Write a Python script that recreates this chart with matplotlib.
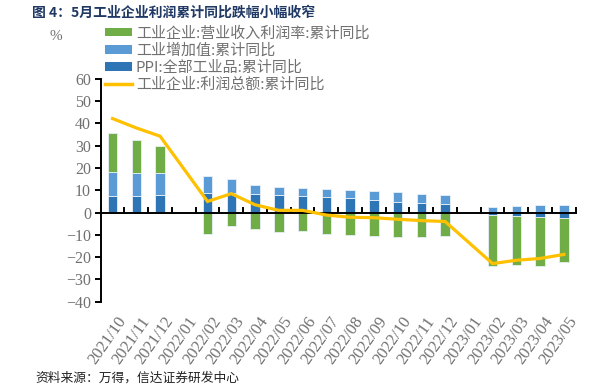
import numpy as np
import matplotlib
matplotlib.use("Agg")
import matplotlib.pyplot as plt
import matplotlib.transforms as mtransforms
from matplotlib.patches import Patch
from matplotlib.lines import Line2D

# =========================
# DATA
# =========================

months = ["2021/10", "2021/11", "2021/12", "2022/01", "2022/02", "2022/03",
          "2022/04", "2022/05", "2022/06", "2022/07", "2022/08", "2022/09",
          "2022/10", "2022/11", "2022/12", "2023/01", "2023/02", "2023/03",
          "2023/04", "2023/05"]

nan = np.nan
# PPI: all industrial products, cumulative yoy
ppi = [7.3, 7.6, 8.1, nan, 8.8, 8.7, 8.5, 8.1, 7.6, 7.0, 6.5, 5.8,
       4.9, 4.5, 4.0, nan, -1.0, -1.6, -2.1, -2.6]
# industrial value added, cumulative yoy
value_added = [10.9, 10.3, 9.6, nan, 7.5, 6.5, 3.9, 3.3, 3.5, 3.6, 3.7, 3.9,
               4.2, 3.9, 3.8, nan, 2.4, 3.0, 3.6, 3.6]
# revenue profit margin, cumulative yoy
margin = [17.4, 14.6, 12.2, nan, -9.6, -5.8, -7.5, -8.8, -8.1, -9.7, -10.1, -10.4,
          -10.9, -10.8, -10.6, nan, -22.9, -22.0, -21.9, -19.5]
# total profit, cumulative yoy
profit = [42.2, 38.0, 34.3, nan, 5.0, 8.5, 3.5, 1.0, 1.0, -1.1, -2.1, -2.3,
          -3.0, -3.6, -4.0, nan, -22.9, -21.4, -20.6, -18.8]

labels = ["工业企业:营业收入利润率:累计同比", "工业增加值:累计同比",
          "PPI:全部工业品:累计同比", "工业企业:利润总额:累计同比"]

title = "图 4：5月工业企业利润累计同比跌幅小幅收窄"
source = "资料来源：万得，信达证券研发中心"

c_green = "#70AD47"
c_light = "#5B9BD5"
c_dark = "#2E75B6"
c_line = "#FFC000"
c_text = "#707070"

cjk = ["Noto Sans CJK SC", "DejaVu Sans"]
serif = "Liberation Serif"

# =========================
# FIGURE
# =========================

fig = plt.figure(figsize=(6.05, 3.85), dpi=100)
ax = fig.add_axes([0.1664, 0.2164, 0.7852, 0.5786])

x = np.arange(len(months))
pos_base = np.zeros(len(months))
neg_base = np.zeros(len(months))

# stack positive and negative parts separately (like Excel)
for vals, col in [(ppi, c_dark), (value_added, c_light), (margin, c_green)]:
    v = np.array(vals, dtype=float)
    ok = ~np.isnan(v)
    vv = np.nan_to_num(v)
    base = np.where(vv >= 0, pos_base, neg_base)
    ax.bar(x[ok], vv[ok], bottom=base[ok], width=0.4, color=col,
           edgecolor="#e8f0f8", linewidth=0.6, zorder=1)
    pos_base = pos_base + np.where(vv > 0, vv, 0)
    neg_base = neg_base + np.where(vv < 0, vv, 0)

p = np.array(profit, dtype=float)
ok = ~np.isnan(p)
ax.plot(x[ok], p[ok], color=c_line, linewidth=2.3, zorder=3,
        solid_joinstyle="miter")

ax.set_xlim(-0.5, len(months) - 0.5)
ax.set_ylim(-40, 60)
ax.set_yticks(np.arange(-40, 61, 10))

for s in ["top", "right"]:
    ax.spines[s].set_visible(False)
ax.spines["bottom"].set_position(("data", 0))
ax.spines["bottom"].set_linewidth(1.4)
ax.spines["left"].set_linewidth(1.4)

ax.set_xticks(np.arange(-0.5, len(months), 1.0))
ax.set_xticklabels([])
ax.tick_params(axis="x", direction="in", length=4, width=1.4)
ax.tick_params(axis="y", direction="out", length=4, width=1.4,
               labelcolor=c_text, labelsize=11.5, pad=3)
for t in ax.get_yticklabels():
    t.set_fontfamily(serif)

# category labels below the plot area
trans = mtransforms.blended_transform_factory(ax.transData, ax.transAxes)
for i, m in enumerate(months):
    ax.text(i + 0.15, -0.055, m, transform=trans, rotation=55,
            ha="right", va="top", rotation_mode="anchor",
            fontsize=12, family=serif, color=c_text)

# legend
handles = [Patch(facecolor=c_green), Patch(facecolor=c_light),
           Patch(facecolor=c_dark), Line2D([], [], color=c_line, linewidth=2.5)]
fig.legend(handles, labels, loc="upper left",
           bbox_to_anchor=(105 / 605, 1 - 26 / 385), frameon=False,
           prop={"family": cjk, "size": 10.8}, labelcolor=c_text,
           handlelength=1.8, handleheight=0.5, handletextpad=0.25,
           labelspacing=0.18, borderpad=0, borderaxespad=0)

fig.text(50 / 605, 1 - 36 / 385, "%", family=serif, fontsize=11,
         color=c_text, ha="left", va="center")

fig.text(32 / 605, 1 - 13 / 385, title, family=cjk, fontsize=10,
         fontweight="bold", color="#1F3864", ha="left", va="center")
fig.text(35 / 605, 1 - 378 / 385, source, family=cjk, fontsize=9.2,
         color="#222222", ha="left", va="center")

fig.savefig("out.png", dpi=100)
plt.close(fig)
